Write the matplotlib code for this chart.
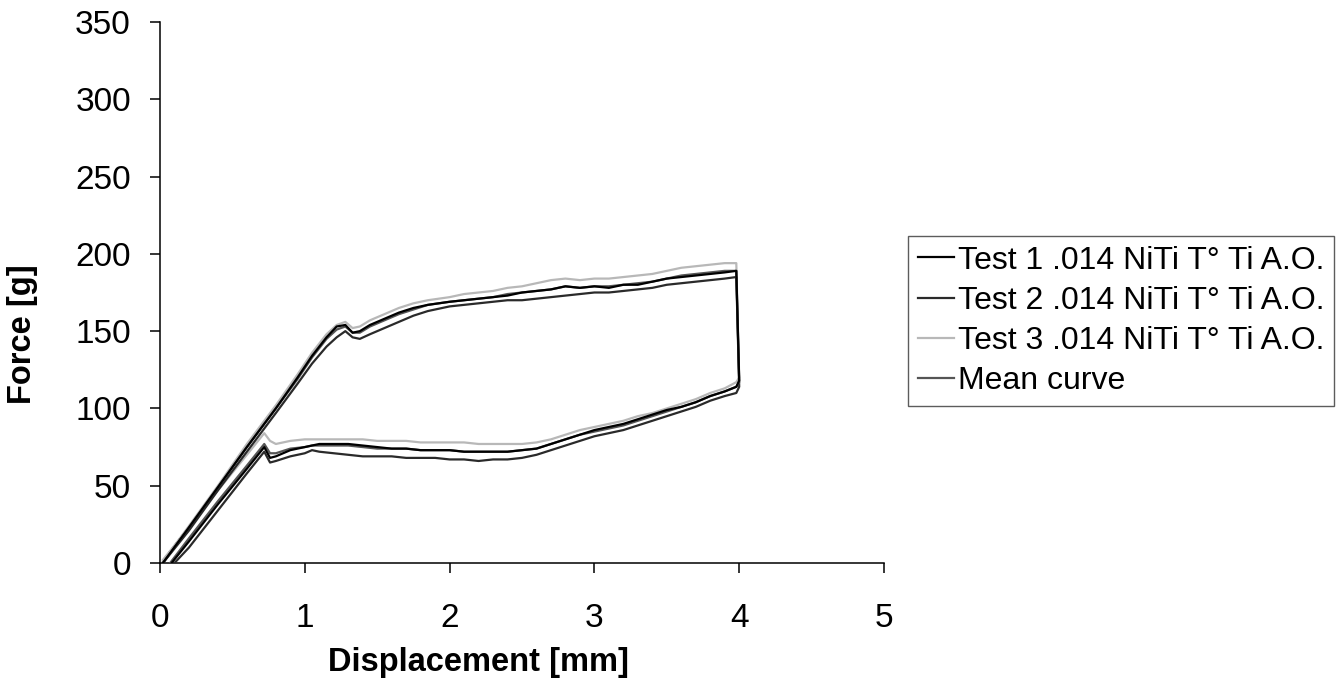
import matplotlib
matplotlib.use("Agg")
import matplotlib.pyplot as plt

plt.rcParams['font.family'] = ['Liberation Sans', 'DejaVu Sans']

# loading branch (displacement in mm)
load_x = [0.02, 0.2, 0.4, 0.6, 0.8, 0.95, 1.05, 1.15, 1.22, 1.28, 1.33, 1.38, 1.45,
          1.55, 1.65, 1.75, 1.85, 2.0, 2.1, 2.2, 2.3, 2.4, 2.5, 2.6, 2.7, 2.8, 2.9,
          3.0, 3.1, 3.2, 3.3, 3.4, 3.5, 3.6, 3.7, 3.8, 3.9, 3.98]
load_t1 = [0, 23, 49, 75, 100, 120, 134, 146, 153, 154, 149, 150, 154,
           158, 162, 165, 167, 169, 170, 171, 172, 173, 175, 176, 177, 179, 178,
           179, 178, 180, 180, 182, 184, 185, 186, 187, 188, 189]
load_t2 = [0, 21, 47, 72, 97, 116, 129, 140, 146, 150, 146, 145, 148,
           152, 156, 160, 163, 166, 167, 168, 169, 170, 170, 171, 172, 173, 174,
           175, 175, 176, 177, 178, 180, 181, 182, 183, 184, 185]
load_t3 = [1, 24, 50, 77, 102, 122, 136, 148, 154, 156, 152, 153, 157,
           161, 165, 168, 170, 172, 174, 175, 176, 178, 179, 181, 183, 184, 183,
           184, 184, 185, 186, 187, 189, 191, 192, 193, 194, 194]
load_mean = [0, 23, 49, 75, 100, 119, 133, 145, 151, 153, 149, 149, 153,
             157, 161, 164, 167, 169, 170, 171, 172, 174, 175, 176, 177, 179, 178,
             179, 179, 180, 181, 182, 184, 186, 187, 188, 189, 189]

# unloading branch
unload_x = [4.0, 3.98, 3.9, 3.8, 3.7, 3.6, 3.5, 3.4, 3.3, 3.2, 3.1, 3.0, 2.9, 2.8,
            2.7, 2.6, 2.5, 2.4, 2.3, 2.2, 2.1, 2.0, 1.9, 1.8, 1.7, 1.6, 1.5, 1.4,
            1.3, 1.2, 1.1, 1.05, 1.0, 0.9, 0.8, 0.76, 0.72, 0.6, 0.4, 0.2]
unload_t1 = [118, 114, 111, 108, 104, 101, 99, 96, 93, 90, 88, 86, 83, 80,
             77, 74, 73, 72, 72, 72, 72, 73, 73, 73, 74, 74, 75, 76,
             77, 77, 77, 76, 75, 73, 69, 68, 75, 61, 38, 14]
unload_t2 = [114, 110, 108, 105, 101, 98, 95, 92, 89, 86, 84, 82, 79, 76,
             73, 70, 68, 67, 67, 66, 67, 67, 68, 68, 68, 69, 69, 69,
             70, 71, 72, 73, 71, 69, 66, 65, 72, 58, 34, 10]
unload_t3 = [120, 117, 113, 110, 106, 103, 100, 97, 95, 92, 90, 88, 86, 83,
             80, 78, 77, 77, 77, 77, 78, 78, 78, 78, 79, 79, 79, 80,
             80, 80, 80, 80, 80, 79, 77, 79, 84, 70, 47, 23]
unload_mean = [117, 114, 111, 108, 104, 101, 98, 95, 92, 89, 87, 85, 83, 80,
               77, 74, 73, 72, 72, 72, 72, 73, 73, 73, 74, 74, 74, 75,
               76, 76, 76, 76, 75, 74, 71, 71, 77, 63, 40, 16]
end_x = [0.08, 0.1, 0.02, 0.07]  # where each unloading reaches zero force
end_y = [0, 0, 2, 0]

labels = ["Test 1 .014 NiTi T\u00b0 Ti A.O.", "Test 2 .014 NiTi T\u00b0 Ti A.O.",
          "Test 3 .014 NiTi T\u00b0 Ti A.O.", "Mean curve"]
colors = ["#000000", "#2a2a2a", "#b8b8b8", "#555555"]

loads = [load_t1, load_t2, load_t3, load_mean]
unloads = [unload_t1, unload_t2, unload_t3, unload_mean]

fig = plt.figure(figsize=(13.42, 6.85), dpi=100)
ax = fig.add_axes([160/1342, 1-563/685, 724/1342, 541/685])

lines = []
for i in range(4):
    xs = load_x + unload_x + [end_x[i]]
    ys = loads[i] + unloads[i] + [end_y[i]]
    ln, = ax.plot(xs, ys, color=colors[i], lw=1.6, zorder=[4, 3, 2, 3][i])
    lines.append(ln)

ax.set_xlim(0, 5)
ax.set_ylim(0, 350)
ax.set_xticks(range(0, 6))
ax.set_yticks(range(0, 351, 50))
ax.spines['top'].set_visible(False)
ax.spines['right'].set_visible(False)
for s in ['left', 'bottom']:
    ax.spines[s].set_linewidth(1.1)
ax.tick_params(axis='both', direction='out', length=7, width=1.1, labelsize=24)
ax.tick_params(axis='x', pad=22)
ax.tick_params(axis='y', pad=14)

fig.text(478/1342, 1-662/685, "Displacement [mm]", ha='center', va='center',
         fontsize=23.5, fontweight='bold')
fig.text(22/1342, 1-334/685, "Force [g]", ha='center', va='center',
         fontsize=23.5, fontweight='bold', rotation=90)

leg = fig.legend(lines, labels, loc='upper left', bbox_to_anchor=(908/1342, 1-236/685),
                 borderaxespad=0, fontsize=23, frameon=True, fancybox=False,
                 handlelength=1.15, handletextpad=0.1, labelspacing=0.32,
                 borderpad=0.3)
leg.get_frame().set_edgecolor('#333333')
leg.get_frame().set_linewidth(1.0)

fig.savefig("out.png", dpi=100)
